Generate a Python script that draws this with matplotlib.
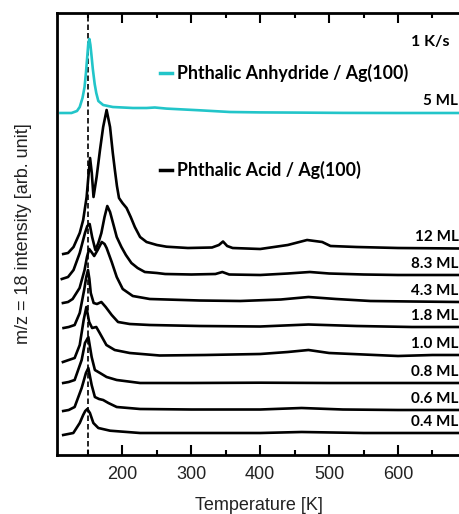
import matplotlib
matplotlib.use("Agg")
import matplotlib.pyplot as plt
from matplotlib.ticker import MultipleLocator

plt.rcParams['font.family'] = ['Liberation Sans', 'DejaVu Sans']

# Phthalic anhydride / Ag(100), 5 ML
t_anh = [110, 126, 134, 138, 142, 145, 147, 149, 150.5, 152, 153.5, 155, 157, 159.7, 162, 165,
         172, 186, 215, 235, 247, 264, 312, 356, 400, 453, 520, 600, 690]
i_anh = [0, 0, 2, 6, 15, 26, 40, 57, 70, 74, 68, 58, 44, 29, 20, 12,
         8, 6, 5, 5, 5.5, 4.4, 2.7, 1, 0.6, 0.4, 0.1, 0, 0]

# Phthalic acid / Ag(100), one trace per coverage
t_12 = [114, 121, 129, 138, 143, 148, 150.5, 153, 155.5, 158, 162.5, 167.4, 172, 177, 182, 186,
        189, 192, 195, 200, 206, 212, 218, 225.6, 235, 250, 264, 295, 330, 340, 346, 352, 360,
        400, 440, 468, 490, 502, 540, 600, 690]
i_12 = [-6, -5, 1, 15, 28, 51, 71, 90, 75, 51, 71, 98, 121, 138, 121, 95,
        78, 62, 50, 45, 40, 31, 21, 11, 6, 3, 1.3, 0, 0.5, 3, 6.5, 2, 0,
        -1, 3, 8, 6, 2, 1, 0, -0.5]

t_83 = [112, 121, 129, 138, 145.6, 149, 152.4, 156, 160.7, 165, 169.4, 174, 178, 182, 186.3,
        191.7, 198.5, 205, 213, 222, 232.5, 250, 262, 300, 335, 345, 355, 400, 440, 472, 500,
        550, 600, 690]
i_83 = [-4, -2, 5, 22, 42, 49, 51, 38, 25, 32, 42, 58, 69, 63, 52,
        38, 28, 20, 12, 7, 3, 2, 1, 0.5, 1, 3, 0.5, 0, 1.5, 3, 1.5,
        0.5, 0, 0]

t_43 = [113.6, 121, 127.7, 137.8, 145, 148.5, 151.7, 155, 159, 164, 170, 174, 177, 184.4,
        191.7, 200.4, 215, 239.7, 312, 371, 430, 470, 510, 560, 620, 690]
i_43 = [-1, 0, 3, 14, 32, 45, 53, 50, 46, 52, 60, 58, 54, 40,
        25, 13, 6, 3, 1.5, 1, 2.5, 5, 3, 1, 0.5, 0]

t_18 = [114.5, 122, 130.6, 138, 144.4, 147.5, 150, 152, 154, 158.2, 163, 169.4, 175.7, 184.4,
        193.6, 210.6, 239.7, 312, 400, 470, 540, 620, 690]
i_18 = [-1, 0, 2, 14, 37, 50, 57, 48, 34, 24, 23, 25, 20, 12,
        5, 3, 2, 1, 0.5, 2.5, 1, 0, 0]

t_10 = [113.6, 122, 130.6, 138, 143.7, 147.6, 151.7, 156, 162, 167, 176.7, 188.8, 210.6, 254,
        320, 400, 440, 470, 500, 550, 600, 650, 690]
i_10 = [-7, -5, -3, 10, 35, 48, 33, 27, 28, 22, 10, 5, 2, -0.5,
        0, 1, 3, 5, 2, 0.5, -1, 0, 0]

t_08 = [114, 122, 130.6, 140.8, 145.6, 150.5, 155.3, 160, 167.4, 177, 191.7, 225.6, 300, 400,
        500, 600, 690]
i_08 = [0, 1, 3, 23, 40, 46, 26, 13, 10, 6, 3, 0, 0, 0.3,
        0, 0, 0]

t_06 = [114, 122, 130.6, 140.8, 147, 150.5, 155.3, 160, 166, 172, 179.6, 191.7, 225.6, 300,
        400, 460, 520, 600, 690]
i_06 = [-1, 0, 3, 22, 37, 42, 25, 13, 11, 10, 7, 3, 1, 0.5,
        0.5, 2, 0.5, 0, 0]

t_04 = [114, 128.7, 138, 143, 146, 149, 152.8, 157.8, 165, 182, 225.6, 300, 400, 460, 550, 690]
i_04 = [-2, 0, 10, 18, 22, 24, 20, 10, 5, 2.3, 0, 0, 0, 1, 0, 0]

coverages = ["0.4 ML", "0.6 ML", "0.8 ML", "1.0 ML", "1.8 ML", "4.3 ML", "8.3 ML", "12 ML"]
acid_t = [t_04, t_06, t_08, t_10, t_18, t_43, t_83, t_12]
acid_i = [i_04, i_06, i_08, i_10, i_18, i_43, i_83, i_12]
# vertical offsets of the stacked traces
acid_offsets = [22, 45, 72, 100, 128, 153, 180, 207]
anh_offset = 342

cyan = '#22c5c9'
label_font = dict(family=['Lato', 'DejaVu Sans'], weight='bold')

fig = plt.figure(figsize=(4.6, 5.14), dpi=100)
ax = fig.add_axes([57 / 460, 59 / 514, 403 / 460, 442 / 514])

ax.axvline(150, color='black', lw=1.2, ls=(0, (3.3, 1.8)), zorder=1)

ax.plot(t_anh, [v + anh_offset for v in i_anh], color=cyan, lw=1.9,
        solid_joinstyle='round', zorder=3)
for t, y, off, lab in zip(acid_t, acid_i, acid_offsets, coverages):
    ax.plot(t, [v + off for v in y], color='black', lw=1.9,
            solid_joinstyle='round', zorder=2)
    ax.text(688, off + 11, lab, ha='right', va='center', fontsize=11, **label_font)

ax.text(0.995, 0.801, "5 ML", transform=ax.transAxes, ha='right', va='center',
        fontsize=11, **label_font)
ax.text(0.973, 0.934, "1 K/s", transform=ax.transAxes, ha='right', va='center',
        fontsize=11.5, **label_font)

# legend-like labels with short line samples
ax.plot([0.256, 0.285], [0.865, 0.865], color=cyan, lw=2.5, transform=ax.transAxes)
ax.text(0.297, 0.865, "Phthalic Anhydride / Ag(100)", transform=ax.transAxes,
        ha='left', va='center', fontsize=12.8, **label_font)
ax.plot([0.256, 0.285], [0.645, 0.645], color='black', lw=2.5, transform=ax.transAxes)
ax.text(0.297, 0.645, "Phthalic Acid / Ag(100)", transform=ax.transAxes,
        ha='left', va='center', fontsize=12.8, **label_font)

ax.set_xlim(105, 690)
ax.set_ylim(0, 442)
ax.xaxis.set_major_locator(MultipleLocator(100))
ax.xaxis.set_minor_locator(MultipleLocator(50))
ax.tick_params(axis='x', which='both', direction='in', top=True, width=1.5,
               labelsize=13, pad=8, colors='black', labelcolor='#222222')
ax.tick_params(axis='x', which='major', length=7)
ax.tick_params(axis='x', which='minor', length=3.6)
ax.set_yticks([])

for side in ['left', 'top', 'bottom']:
    ax.spines[side].set_linewidth(2)
ax.spines['right'].set_visible(False)

ax.set_xlabel("Temperature [K]", fontsize=13, color='#222222')
ax.set_ylabel("m/z = 18 intensity [arb. unit]", fontsize=13, color='#222222')
ax.xaxis.set_label_coords(0.5, -0.095)
ax.yaxis.set_label_coords(-0.062, 0.5)
ax.xaxis.label.set_va('top')

fig.savefig("out.png", dpi=100)
